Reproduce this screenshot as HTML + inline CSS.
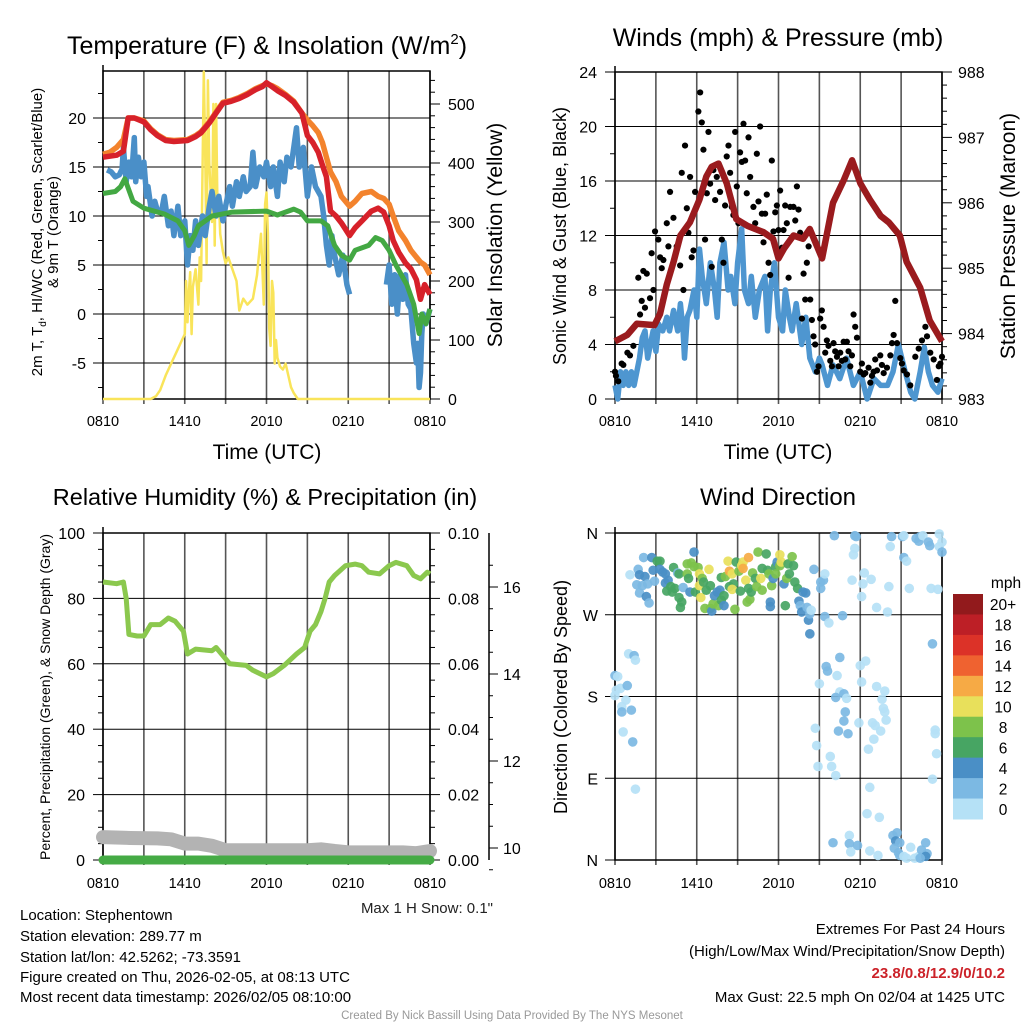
<!DOCTYPE html>
<html><head><meta charset="utf-8"><style>
html,body{margin:0;padding:0;background:#fff;width:1024px;height:1024px;overflow:hidden}
svg{display:block;font-family:"Liberation Sans",Arial,sans-serif}
</style></head><body>
<svg id="fig" width="1024" height="1024" viewBox="0 0 1024 1024" xmlns="http://www.w3.org/2000/svg"></svg>
<script>
// ---------- DATA ----------
const timeTickLabels = ["0810","1410","2010","0210","0810"];
const tempTicks = [20,15,10,5,0,-5];
const solarTicks = [0,100,200,300,400,500];
const tT = [0,0.5,1,1.5,1.85,2.3,3,3.5,4,4.6,5.2,6.2,6.8,7.2,7.8,8.3,8.8,9.4,10,10.6,11.2,11.7,12,12.4,12.8,13.4,14,14.6,15,15.4,15.8,16.1,16.4,16.7,17.1,17.5,18.1,18.5,19,19.7,20.2,20.6,21,21.3,21.7,22.2,22.6,23,23.3,23.6,24];
const temp2m = [16,16.1,16.2,16.6,20,20,19.6,18.8,18.2,17.7,17.6,17.7,18.1,18.5,19.5,20.5,21.5,21.7,22,22.4,22.9,23.2,23.6,23.2,22.8,22.3,21.6,20.5,18.2,17.5,16.5,15.2,14,10.5,10,9.3,8,8.8,9.5,10.5,10.8,10.4,9,7.5,6.3,5.2,4.6,3.5,1.5,3,2];
const temp9m = [16.3,16.5,17,17.8,20,20,19.7,18.9,18.3,17.8,17.7,17.8,18.2,18.6,19.6,20.6,21.6,21.8,22.1,22.5,23,23.3,23.5,23.3,23,22.4,21.7,20.5,19.8,19.2,18.5,17.5,16,14.5,13.5,12,11,11.5,12.3,12.5,12,11.8,11.2,10,8.5,7.5,6.5,5.8,5.3,5,4];
const dT = [0,0.9,1.3,1.6,2.2,3,4.5,5.5,6,6.3,6.7,7,8,9.5,12,12.8,14,14.5,15,16,16.5,17,17.5,18.1,18.5,19.5,20,20.5,21,21.5,22.3,22.8,23.2,23.4,23.7,24];
const dewpt = [12.3,12.5,13,13.8,11.5,10.8,10.2,9.5,8.5,7,8,9,10,10.4,10.5,10.1,10.7,10.4,9.5,9.5,9,7,6,5.5,6.5,7,7.8,7.5,6.5,5,3,1,-2,0,-1,0.5];
const wcT = [0.3,0.6,0.9,1.2,1.4,1.5,1.7,1.9,2.1,2.3,2.4,2.6,2.8,3,3.2,3.3,3.6,3.8,4,4.3,4.5,4.8,5,5.2,5.5,5.7,6,6.2,6.4,6.6,6.8,7,7.3,7.5,7.8,8,8.3,8.5,8.8,9,9.3,9.5,9.8,10,10.3,10.5,10.8,11,11.2,11.5,11.8,12,12.3,12.5,12.8,13,13.3,13.5,13.8,14,14.2,14.4,14.7,15,15.3,15.6,16,16.2,16.4,16.6,16.8,17,17.3,17.6,17.9,18.1,null,20.8,21,21.2,21.4,21.6,21.8,22,22.2,22.4,22.6,22.8,23,23.1,23.2,23.3,23.4,23.5,23.7,23.9,24];
const windChill = [14.7,14.5,14,14.2,14.8,17,13.5,15.5,14,18,13.5,16,14,15.5,12,13,10,11.5,10.5,10.5,12,9,10.5,8,11,8,9.5,5,8,6.5,9.5,7,10,8,11,12.5,10,12,9.5,11,13,11,13.5,12,14,12.5,13,16.5,13,15,14,15.5,13,15,12,15.5,13.5,16,15,17,19,15,17,12,15,13,12,10,7,5,8,6,4,6,3,2,null,3,5,1,4,0,4,1.5,4,1,0.5,-3,-5,-3,-7.5,-6,-2,0,-1,0,0.5];
const sT = [0,3.5,3.9,4.2,4.6,5,5.4,5.8,6,6.1,6.2,6.3,6.4,6.5,6.6,6.8,7,7.1,7.2,7.4,7.5,7.6,7.7,7.8,8,8.1,8.2,8.3,8.4,8.5,8.6,8.8,9,9.2,9.5,9.8,10,10.3,10.6,11,11.3,11.6,11.8,11.9,12,12.1,12.2,12.3,12.4,12.5,12.6,12.7,12.8,13,13.2,13.4,13.6,13.8,14,14.3,14.6,24];
const solar = [0,0,5,15,40,60,80,100,110,200,130,180,215,110,190,220,160,240,200,555,420,230,540,400,300,500,260,500,330,340,280,250,230,240,220,200,150,170,160,170,210,280,160,330,350,280,120,90,200,180,60,100,70,55,50,60,40,20,10,0,0,0];

const windTicks = [0,4,8,12,16,20,24];
const presTicks = [983,984,985,986,987,988];
const pT = [0,0.9,1.6,2.2,2.9,3.3,3.8,4.3,4.8,5.5,6.2,6.7,7.1,7.6,8.2,8.9,9.7,10.3,10.9,11.6,12,12.4,13.1,13.8,14.3,15.2,16,16.8,17.4,18,18.7,19.5,20.1,20.9,21.4,22.4,23.1,24];
const pressure = [983.88,983.98,984.15,984.14,984.13,984.3,984.75,985.1,985.5,985.7,986.05,986.4,986.55,986.6,986.3,985.75,985.65,985.6,985.55,985.45,985.15,985.3,985.5,985.45,985.6,985.15,986.0,986.35,986.65,986.3,986.05,985.8,985.7,985.5,985.1,984.7,984.2,983.88];
const wT = [0,0.2,0.4,0.6,0.8,1,1.2,1.4,1.6,1.8,2,2.2,2.4,2.6,2.8,3,3.2,3.5,3.8,4,4.3,4.6,4.8,5,5.1,5.3,5.5,5.8,6,6.2,6.4,6.7,7,7.3,7.5,7.7,8,8.3,8.5,8.8,9,9.3,9.5,9.8,10,10.3,10.6,11,11.2,11.4,11.7,12,12.3,12.5,12.8,13,13.3,13.7,14,14.3,14.7,15,15.2,15.6,16,16.5,17,17.5,18,18.5,19,19.5,20,20.4,20.8,21.3,21.7,22,22.4,22.7,23,23.3,23.7,24];
const windSpd = [1,0,2,1,2,1,2,1,2,3,4.5,5,3,4,5,3.5,5.5,5,6,5,6.5,5,7,5,3,6,6.5,8,6,11,9,7,10,8,6,10,11.5,8,9,7,10,12.5,8,7,9,6,8,9,5,8,10,6,5,8,6,5,7,4,6,3,2,3,2.5,1,2.5,1.5,3,1,2,0,1.5,1,1,2,4,2,0.5,0,2,3.8,2,1,0.5,1.5];
const gT = [0,0.07,0.24,0.49,0.61,0.91,1.1,1.35,1.71,1.84,1.96,2.08,2.2,2.33,2.57,2.69,2.82,2.94,3.18,3.31,3.43,3.55,3.8,3.92,4.04,4.29,4.53,4.78,4.9,5.02,5.14,5.27,5.39,5.51,5.63,5.76,5.88,6.12,6.25,6.37,6.49,6.61,6.74,6.86,6.98,7.1,7.22,7.35,7.47,7.71,7.84,7.96,8.08,8.2,8.33,8.45,8.57,8.69,8.82,8.94,9.06,9.18,9.31,9.43,9.55,9.67,9.8,9.92,10.16,10.29,10.41,10.53,10.65,10.78,10.9,11.02,11.14,11.27,11.39,11.51,11.63,11.76,11.88,12,12.12,12.25,12.37,12.49,12.61,12.74,12.86,13.1,13.23,13.35,13.47,13.59,13.72,13.84,13.96,14.08,14.21,14.33,14.45,14.57,14.69,14.82,14.94,15.06,15.18,15.31,15.43,15.55,15.67,15.8,15.92,16.04,16.16,16.29,16.41,16.53,16.65,16.78,16.9,17.02,17.14,17.27,17.39,17.51,17.63,17.76,18,18.12,18.25,18.37,18.61,18.74,18.86,18.98,19.1,19.23,19.47,19.59,19.72,19.96,20.21,20.33,20.45,20.57,20.7,20.94,21.06,21.19,21.43,21.67,22.04,22.29,22.53,22.78,22.9,23.14,23.39,23.63,23.76,23.88,24];
const gust = [2.0,1.7,1.3,2.6,2.5,3.4,3.2,3.9,8.9,6.2,7.2,9.4,6.7,9.2,7.4,10.7,8.0,12.3,11.7,10.4,9.6,10.2,12.9,11.2,15.2,13.3,11.2,9.8,16.6,8.0,18.6,14.0,12.2,16.3,10.4,10.9,15.2,21.1,22.5,20.3,18.3,11.7,15.1,19.6,15.8,9.7,16.8,14.6,16.3,15.2,11.7,10.0,14.2,17.8,18.6,16.6,14.1,13.5,19.6,15.6,12.9,18.1,17.4,20.2,17.5,15.1,19.2,16.3,14.1,12.9,18.0,14.5,20.0,13.6,11.5,13.6,15.0,10.0,9.1,17.5,12.3,13.7,14.2,12.4,15.3,11.1,12.4,14.2,12.9,8.9,14.1,14.1,13.1,15.6,13.9,12.2,5.9,9.2,7.3,10.0,11.2,7.3,5.8,4.6,4.0,2.0,2.4,5.9,6.5,5.3,3.4,4.3,3.9,2.8,2.4,4.1,3.5,3.1,2.4,3.4,2.8,4.2,2.9,4.2,3.5,2.4,3.2,6.2,5.3,4.5,2.0,2.6,1.8,1.9,2.3,1.2,1.7,2.0,2.9,2.1,3.2,2.5,1.9,2.3,3.2,4.1,4.7,7.2,4.1,3.0,2.6,2.1,1.8,1.0,3.1,3.7,4.3,5.3,4.6,3.4,2.9,1.4,2.4,2.6,3.1];

const dirTicks = ["N","E","S","W","N"];
const dirH = [0,0.2,0.1,0.4,0,0.8,0.5,0.5,1.2,0.6,0.9,1,1.4,1.5,1.3,1.5,
1.1,1.7,1.8,2.1,2.2,1.6,2,1.8,2.3,2.5,2.4,2.7,2.8,2.9,3.1,3.3,3.3,3.5,3.7,3.9,3.7,3.8,4.1,4.2,4.3,4.4,4.6,4.7,4.7,4.9,4.8,5,5.3,5.3,5.4,5.5,5.6,5.8,5.8,5.9,6.1,6.2,6.4,6.2,6.3,6.5,6.6,6.7,6.9,7,7,7.1,7.2,7.3,7.5,7.6,7.7,7.8,8,8,7.8,8.1,8.3,8.4,8.4,8.6,8.7,8.6,8.8,8.9,9.1,9.2,9.3,9.4,9.4,9.6,9.7,9.8,9.8,9.9,10,10.1,10.3,10.4,10.5,10.7,10.8,10.8,11.1,11.2,11.3,11.4,11.4,11.5,11.6,11.8,11.8,11.9,12.1,12.1,12.2,12.4,12.5,12.6,12.7,12.8,13,13.1,13.2,13.4,13.5,13.6,13.7,13.8,14,14.1,14.2,14.3,14.3,14.4,14.6,15.1,15.3,15.4,15.1,15.4,15.7,16.7,16.1,17.6,17.7,17.6,17.5,17.4,18.3,18.2,18.8,18.1,19.2,20,20.1,20.2,20.3,21.1,21.2,21.2,21.4,21.6,22.1,22.3,22.4,22.6,23,23.1,23.2,23.7,23.8,24,23.8,24,23.3,
14.7,14.8,14.9,15,15.5,15.6,15.8,15.9,16.2,16.3,16.5,16.5,16.2,16.8,17,16.9,16.8,16.4,17.1,18,18.4,18.1,17.9,18.9,19.1,19.2,19.8,19.6,19.7,19.8,19.9,19.5,19,18.6,18.7,18.5,19.4,17.2,16,17.2,17.8,17.3,18.7,19.3,20.4,20.7,20.6,20.9,20.5,20.8,20.9,21.2,21.7,22,21.4,22.3,22.5,22.8,22.9,22.8,22.4,23.3,23.5,23.5,23.6];
const dirDeg = [203,202,187,189,181,176,169,163,165,141,192,227,225,220,130,78,
314,320,314,333,312,303,302,294,290,283,304,333,319,307,329,329,320,317,315,308,305,296,301,295,322,299,316,315,289,284,278,300,326,315,310,295,327,323,339,295,322,315,310,302,289,306,277,297,320,302,277,274,282,291,295,280,297,286,280,291,311,312,329,301,318,315,304,298,276,328,318,296,324,328,321,308,284,333,299,287,295,316,310,301,339,310,321,297,337,319,315,284,279,302,310,323,315,328,336,324,328,304,280,310,326,315,334,324,306,299,285,280,273,295,294,278,264,249,271,275,320,306,308,315,299,268,261,269,357,357,356,343,336,308,316,304,309,290,278,273,301,345,356,356,357,333,329,299,354,351,356,357,350,346,299,298,359,350,345,339,238,
145,126,103,194,213,208,114,103,93,203,223,185,179,183,178,163,153,142,139,214,219,196,151,151,148,191,186,177,167,163,154,142,133,122,80,51,47,27,19,18,16,9,10,5,27,30,21,19,13,8,5,4,14,2,2,4,11,19,7,4,2,89,143,139,117];
const dirSpd = [3,1,1,1,1,1,1,3,3,1,3,1,3,1,3,1,
1,3,5,3,5,3,3,3,5,3,3,5,5,3,7,7,5,5,5,5,5,7,7,7,7,7,3,7,7,7,7,3,9,9,7,5,9,9,5,7,9,11,9,11,11,7,9,7,11,7,9,5,9,5,5,9,5,7,5,7,7,9,11,7,13,11,7,11,9,7,9,7,11,11,13,11,9,13,7,9,7,9,7,9,9,11,7,9,7,7,9,5,5,9,5,7,9,5,11,9,11,5,7,9,7,7,9,7,7,7,5,3,5,5,5,3,5,5,3,1,3,3,3,1,3,3,1,3,3,3,3,1,1,1,1,1,1,1,1,1,1,1,3,3,1,3,1,1,3,3,3,1,3,3,1,1,1,1,1,3,3,
1,1,1,1,3,3,1,1,1,1,3,1,3,3,1,3,3,3,3,1,1,1,1,1,1,1,1,1,1,1,1,1,1,1,1,1,1,1,3,3,3,1,1,1,3,3,5,3,3,3,3,1,1,1,1,1,3,3,3,5,3,1,1,1,1];
const cbLabels = ["20+","18","16","14","12","10","8","6","4","2","0"];
const cbColors = ["#921a1c","#bd1f26","#dc3228","#ef6230","#f6aa45","#e8e05b","#7dc24b","#47a563","#4a8fc6","#7cb9e3","#b5e1f6"];

const rhTicks = [0,20,40,60,80,100];
const pcTicks = ["0.00","0.02","0.04","0.06","0.08","0.10"];
const snTicks = [10,12,14,16];
const rT = [0,1,1.5,1.7,1.9,2.5,3,3.5,4.2,4.8,5.3,5.9,6.2,6.8,8,8.3,8.8,9.3,10.5,11,12,12.5,13.3,14.2,14.8,15.2,15.6,16,16.3,16.6,17,17.8,18.5,19,19.5,20.3,21,21.5,22.3,22.8,23.3,23.8,24];
const rh = [85,84.5,85,80,69,68.5,68.5,72,72,74,73,70,63,64.5,64,65,62.5,60,59.5,58,56,57,59.5,63,65,70,72,76,80,85,87,90,90.5,90,88,87.5,90,91,90,87,86,88,87.5];
const snT = [0,2,4,5,6,7,8,9,12,15,16,17,18,20,22,23,24];
const snow = [10.25,10.23,10.22,10.2,10.1,10.1,10.05,9.95,9.95,9.95,9.97,9.93,9.9,9.9,9.9,9.88,9.93];
const pcT = [0,24];
const precip = [0,0];

// ---------- HELPERS ----------
const NS="http://www.w3.org/2000/svg";
const svg=document.getElementById('fig');
function mk(tag,attrs,name,parent){
  const el=document.createElementNS(NS,tag);
  for(const k in attrs) el.setAttribute(k,attrs[k]);
  
  
  (parent||svg).appendChild(el);
  return el;
}
function txt(x,y,s,size,anchor,name,extra){
  const a=Object.assign({x:x,y:y,'font-size':size,'text-anchor':anchor||'middle',fill:'#000'},extra||{});
  const t=mk('text',a,name);
  t.textContent=s;
  return t;
}
function vtxt(x,y,s,size,name){
  const t=mk('text',{x:0,y:0,'font-size':size,'text-anchor':'middle',transform:`translate(${x},${y}) rotate(-90)`,fill:'#000'},name);
  t.textContent=s; return t;
}
function pathFrom(xs,ys,fx,fy){
  let d='',pen=false;
  for(let i=0;i<Math.min(xs.length,ys.length);i++){
    if(xs[i]===null||ys[i]===null){pen=false;continue;}
    d+=(pen?'L':'M')+fx(xs[i]).toFixed(1)+','+fy(ys[i]).toFixed(1);
    pen=true;
  }
  return d;
}
function frame(x0,x1,y0,y1,hlinesY,name){
  const g=mk('g',{},name);
  for(let i=0;i<=8;i++){
    const x=x0+(x1-x0)*i/8;
    mk('line',{x1:x,x2:x,y1:y0,y2:y1+5,stroke:'#555','stroke-width':1.6},'time-gridline',g);
  }
  hlinesY.forEach(y=>{mk('line',{x1:x0,x2:x1,y1:y,y2:y,stroke:'#000','stroke-width':1},'value-gridline',g);});
  mk('rect',{x:x0,y:y0,width:x1-x0,height:y1-y0,fill:'none',stroke:'#000','stroke-width':1.5},'plot-frame',g);
  mk('line',{x1:x0,x2:x0,y1:y0-6,y2:y0,stroke:'#000','stroke-width':1.5},'axis-tick',g);
  return g;
}
function timeLabels(x0,x1,y){
  timeTickLabels.forEach((s,i)=>{txt(x0+(x1-x0)*i/4,y,s,14.5,'middle','time-tick-label');});
}

// ---------- PANEL 1: Temperature ----------
(function(){
  const x0=103,x1=430,y0=71,y1=399;
  const X=h=>x0+(x1-x0)*h/24, Y=t=>314-9.8*t, YS=w=>399-0.59*w;
  frame(x0,x1,y0,y1,tempTicks.map(Y),'temperature-plot-frame');
  for(let t=-7.5;t<=24;t+=2.5){const y=Y(t);mk('line',{x1:x0-(t%5===0?10:5),x2:x0,y1:y,y2:y,stroke:'#000'},'temp-axis-tick');}
  for(let w=0;w<=550;w+=20){const y=YS(w);mk('line',{x1:x1,x2:x1+(w%100===0?10:5),y1:y,y2:y,stroke:'#000'},'solar-axis-tick');}
  tempTicks.forEach(t=>txt(86,Y(t)+6,String(t),16,'end','temp-tick-label'));
  solarTicks.forEach(w=>txt(448,YS(w)+6,String(w),16,'start','solar-tick-label'));
  mk('path',{d:pathFrom(sT,solar,X,YS),fill:'none',stroke:'#f9e45a','stroke-width':2.5,'stroke-linejoin':'round'},'solar-insolation-line');
  mk('path',{d:pathFrom(wcT,windChill,X,Y),fill:'none',stroke:'#4a8fc8','stroke-width':5.5,'stroke-linejoin':'round'},'windchill-line');
  mk('path',{d:pathFrom(dT,dewpt,X,Y),fill:'none',stroke:'#43a843','stroke-width':5,'stroke-linejoin':'round'},'dewpoint-line');
  mk('path',{d:pathFrom(tT,temp9m,X,Y),fill:'none',stroke:'#f3832d','stroke-width':5.5,'stroke-linejoin':'round'},'temp-9m-line');
  mk('path',{d:pathFrom(tT,temp2m,X,Y),fill:'none',stroke:'#d7212a','stroke-width':5.5,'stroke-linejoin':'round'},'temp-2m-line');
  timeLabels(x0,x1,426);
  txt(267,459,'Time (UTC)',21,'middle','x-axis-title');
  const t=txt(267,54,'',25,'middle','temperature-chart-title');
  t.innerHTML='Temperature (F) &amp; Insolation (W/m<tspan dy="-10" font-size="15">2</tspan><tspan dy="10">)</tspan>';
  const yt=mk('text',{x:0,y:0,'font-size':15,'text-anchor':'middle',transform:'translate(42,232) rotate(-90)'},'temp-y-axis-title');
  yt.innerHTML='2m T, T<tspan dy="4" font-size="10">d</tspan><tspan dy="-4">, HI/WC (Red, Green, Scarlet/Blue)</tspan>';
  vtxt(58,232,'& 9m T (Orange)',15,'temp-y-axis-title-line2');
  vtxt(502,235,'Solar Insolation (Yellow)',21,'solar-y-axis-title');
})();

// ---------- PANEL 2: Winds ----------
(function(){
  const x0=615,x1=942,y0=72,y1=399;
  const X=h=>x0+(x1-x0)*h/24, Y=v=>399-13.625*v, YP=p=>399-(p-983)*65.4;
  frame(x0,x1,y0,y1,windTicks.map(Y),'winds-plot-frame');
  for(let v=0;v<=24;v+=1){const y=Y(v);mk('line',{x1:x0-(v%4===0?10:(v%2===0?5:0)),x2:x0,y1:y,y2:y,stroke:'#000'},'wind-axis-tick');}
  for(let p=983;p<=988.001;p+=0.2){const y=YP(p);const maj=Math.abs(p-Math.round(p))<0.01;mk('line',{x1:x1,x2:x1+(maj?10:5),y1:y,y2:y,stroke:'#000'},'pressure-axis-tick');}
  windTicks.forEach(v=>txt(597,Y(v)+6,String(v),16,'end','wind-tick-label'));
  presTicks.forEach(p=>txt(958,YP(p)+6,String(p),16,'start','pressure-tick-label'));
  mk('path',{d:pathFrom(wT,windSpd,X,Y),fill:'none',stroke:'#4e96d0','stroke-width':5.5,'stroke-linejoin':'round'},'sonic-wind-line');
  const g=mk('g',{},'gust-points');
  for(let i=0;i<Math.min(gT.length,gust.length);i++){
    mk('circle',{cx:X(gT[i]),cy:Y(gust[i]),r:3.1,fill:'#000'},'gust-point',g);
  }
  mk('path',{d:pathFrom(pT,pressure,X,YP),fill:'none',stroke:'#9a1b1e','stroke-width':6.5,'stroke-linejoin':'round'},'pressure-line');
  timeLabels(x0,x1,426);
  txt(778,459,'Time (UTC)',21,'middle','x-axis-title');
  txt(778,46,'Winds (mph) & Pressure (mb)',25,'middle','winds-chart-title');
  vtxt(566,236,'Sonic Wind & Gust (Blue, Black)',18,'wind-y-axis-title');
  vtxt(1015,236,'Station Pressure (Maroon)',21,'pressure-y-axis-title');
})();

// ---------- PANEL 3: RH ----------
(function(){
  const x0=103,x1=430,y0=533,y1=860;
  const X=h=>x0+(x1-x0)*h/24, Y=r=>860-3.27*r, YP=p=>860-3270*p, YS=s=>848-(s-10)*43.5;
  frame(x0,x1,y0,y1,rhTicks.map(Y),'rh-plot-frame');
  for(let r=0;r<=100;r+=5){const y=Y(r);mk('line',{x1:x0-(r%20===0?10:5),x2:x0,y1:y,y2:y,stroke:'#000'},'rh-axis-tick');}
  for(let r=0;r<=100;r+=5){const y=Y(r);mk('line',{x1:x1,x2:x1+(r%20===0?10:5),y1:y,y2:y,stroke:'#000'},'precip-axis-tick');}
  rhTicks.forEach(r=>txt(85,Y(r)+6,String(r),16,'end','rh-tick-label'));
  pcTicks.forEach((s,i)=>txt(448,Y(i*20)+6,s,16,'start','precip-tick-label'));
  mk('line',{x1:489,x2:489,y1:533,y2:860,stroke:'#000','stroke-width':1.5},'snow-depth-axis');
  for(let s=9.5;s<=16.8;s+=0.5){const y=YS(s);mk('line',{x1:489,x2:489+(Math.abs(s%2)<0.01?9:4),y1:y,y2:y,stroke:'#000'},'snow-axis-tick');}
  snTicks.forEach(s=>txt(503,YS(s)+6,String(s),16,'start','snow-tick-label'));
  mk('path',{d:pathFrom(snT,snow,X,YS),fill:'none',stroke:'#b3b3b3','stroke-width':14,'stroke-linecap':'round','stroke-linejoin':'round'},'snow-depth-line');
  mk('path',{d:pathFrom(pcT,precip,X,YP),fill:'none',stroke:'#45ab45','stroke-width':9,'stroke-linecap':'round'},'precipitation-line');
  mk('path',{d:pathFrom(rT,rh,X,Y),fill:'none',stroke:'#8bc84e','stroke-width':5,'stroke-linejoin':'round'},'relative-humidity-line');
  timeLabels(x0,x1,888);
  txt(265,505,'Relative Humidity (%) & Precipitation (in)',23.5,'middle','rh-chart-title');
  vtxt(50,697,'Percent, Precipitation (Green), & Snow Depth (Gray)',14,'rh-y-axis-title');
  txt(493,913,'Max 1 H Snow: 0.1"',15,'end','max-snow-note',{fill:'#222'});
})();

// ---------- PANEL 4: Wind direction ----------
(function(){
  const x0=615,x1=942,y0=533,y1=860;
  const X=h=>x0+(x1-x0)*h/24, Y=d=>860-d*327/360;
  frame(x0,x1,y0,y1,[0,90,180,270,360].map(Y),'direction-plot-frame');
  [0,90,180,270,360].forEach(d=>mk('line',{x1:x0-10,x2:x0,y1:Y(d),y2:Y(d),stroke:'#000'},'direction-axis-tick'));
  dirTicks.forEach((s,i)=>txt(598,Y(i*90)+6,s,16,'end','direction-tick-label'));
  const colorFor=s=>cbColors[10-Math.min(10,Math.floor(s/2))];
  const g=mk('g',{},'direction-points');
  for(let i=0;i<Math.min(dirH.length,dirDeg.length,dirSpd.length);i++){
    mk('circle',{cx:X(dirH[i]),cy:Y(dirDeg[i]),r:4.8,fill:colorFor(dirSpd[i]),'fill-opacity':0.92},'direction-point',g);
  }
  timeLabels(x0,x1,888);
  txt(778,505,'Wind Direction',24,'middle','direction-chart-title');
  vtxt(567,697,'Direction (Colored By Speed)',18,'direction-y-axis-title');
  const cy0=594,bh=(819-594)/11;
  cbLabels.forEach((l,i)=>{
    mk('rect',{x:953,y:cy0+i*bh,width:30,height:bh+0.5,fill:cbColors[i]},'colorbar-bin');
    txt(1003,cy0+i*bh+bh/2+6,l,15.5,'middle','colorbar-label');
  });
  txt(1006,588,'mph',15.5,'middle','colorbar-title');
})();

// ---------- Footer ----------
["Location: Stephentown","Station elevation: 289.77 m","Station lat/lon: 42.5262; -73.3591","Figure created on Thu, 2026-02-05, at 08:13 UTC","Most recent data timestamp: 2026/02/05 08:10:00"].forEach((s,i)=>{
  txt(20,[920,941,962,982,1002][i],s,15,'start','station-info-line');
});
txt(1005,934,'Extremes For Past 24 Hours',15,'end','extremes-header');
txt(1005,956,'(High/Low/Max Wind/Precipitation/Snow Depth)',15,'end','extremes-legend');
txt(1005,978,'23.8/0.8/12.9/0/10.2',15,'end','extremes-values',{fill:'#cc2229','font-weight':'bold'});
txt(1005,1002,'Max Gust: 22.5 mph On 02/04 at 1425 UTC',15,'end','max-gust-line');
txt(512,1019,'Created By Nick Bassill Using Data Provided By The NYS Mesonet',11.5,'middle','credit-line',{fill:'#999'});
</script>
</body></html>
